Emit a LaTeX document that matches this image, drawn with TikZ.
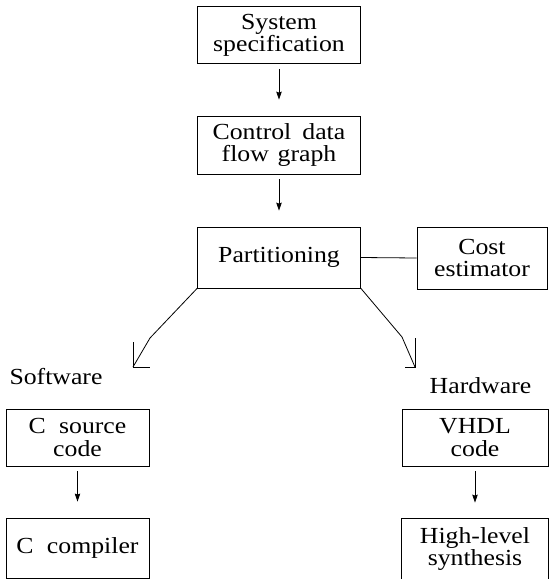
\documentclass[tikz,border=0pt]{standalone}
\usepackage{fontspec}
\setmainfont{Liberation Serif}[FakeStretch=1.12]
\usetikzlibrary{arrows.meta}
\begin{document}
\begin{tikzpicture}[x=1pt,y=-1pt,
  box/.style={draw,line width=0.8pt,inner sep=0pt,align=center,
    font=\fontsize{23}{22}\selectfont},
  lbl/.style={inner sep=0pt,anchor=base,font=\fontsize{23}{22}\selectfont},
  arr/.style={line width=0.8pt,-{Stealth[length=8pt,width=5.5pt,inset=1pt]},
    shorten <=5pt,shorten >=16pt},
  conn/.style={line width=0.8pt}]
\useasboundingbox (0,0) rectangle (549,579);
\clip (0,0) rectangle (549,579);
\node[box,minimum width=163pt,minimum height=57pt] (sys) at (279,35) {System\\specification};
\node[box,minimum width=163pt,minimum height=58pt] (cdfg) at (279,145) {Control\hspace{0.2em} data\\flow\hspace{0.1em} graph};
\node[box,minimum width=163pt,minimum height=61pt] (part) at (279,257.5) {Partitioning};
\node[box,minimum width=130pt,minimum height=62pt] (cost) at (482,258) {Cost\\estimator};
\node[lbl] (sw) at (56,384) {Software};
\node[lbl] (hw) at (480.5,393) {Hardware};
\node[box,minimum width=143pt,minimum height=57pt,font=\fontsize{23}{23}\selectfont] (csrc) at (77.5,437.5) {C\hspace{0.3em} source\\code};
\node[box,minimum width=143pt,minimum height=60pt] (ccomp) at (77.5,548) {C\hspace{0.3em} compiler};
\node[box,minimum width=146pt,minimum height=57pt,font=\fontsize{23}{23}\selectfont] (vhdl) at (475,437.5) {VHDL\\code};
\node[box,draw=none,minimum width=146pt,minimum height=60pt] (hls) at (475,549) {High-level\\synthesis};
\draw[conn] ([yshift=-10pt]hls.south west) |- (hls.north east) -- ([yshift=-10pt]hls.south east);
\draw[arr] (sys.south) -- (cdfg.north);
\draw[arr] (cdfg.south) -- (part.north);
\draw[arr] (csrc.south) -- (ccomp.north);
\draw[arr] (vhdl.south) -- (hls.north);
\draw[conn] (part.east) -- (cost.west);
\coordinate (lb) at (150,338);
\coordinate (lt) at (133,367);
\coordinate (rb) at (402,337);
\coordinate (rt) at (415,367);
\draw[conn] (part.south west) -- (lb) -- (lt);
\draw[conn] (lt) ++(0,-25) -- (lt) -- ++(17,0);
\draw[conn] (part.south east) -- (rb) -- (rt);
\draw[conn] (rt) ++(0,-29) -- (rt) -- ++(-10,0);
\end{tikzpicture}
\end{document}
